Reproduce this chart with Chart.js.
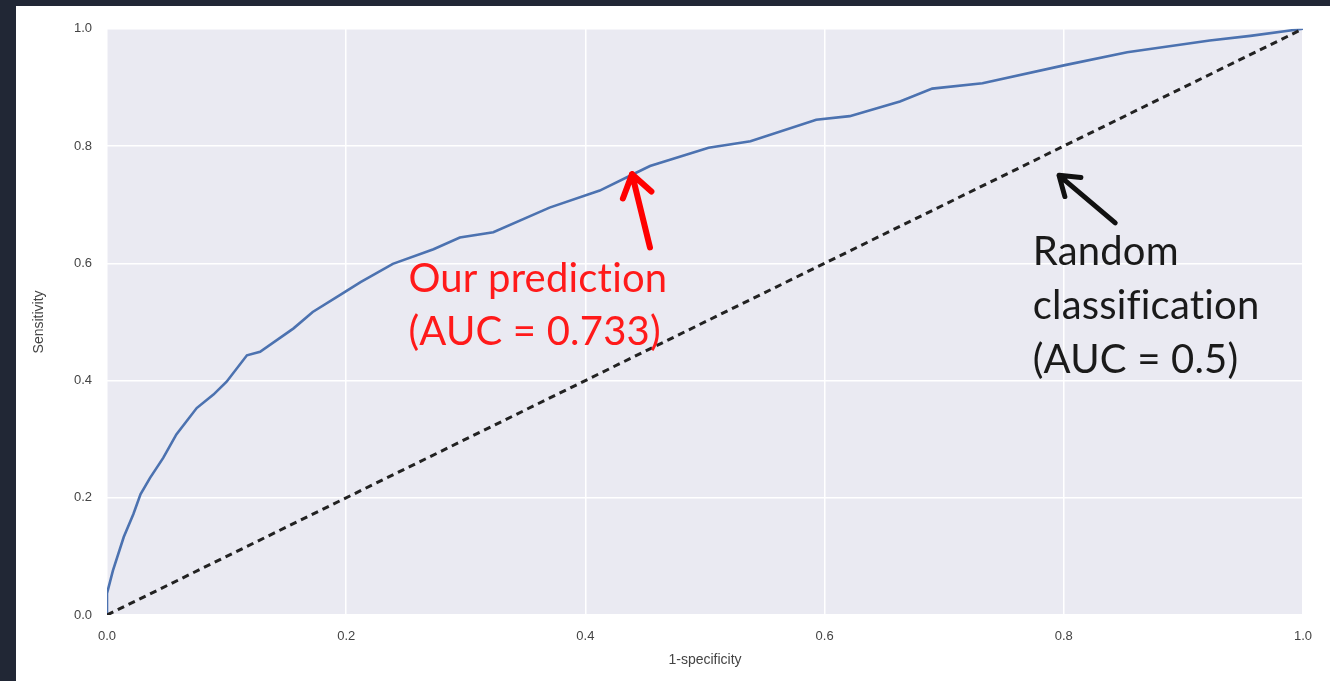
<!DOCTYPE html>
<html lang="en">
<head>
    <meta charset="UTF-8">
    <title>ROC curve</title>
    <script src="https://cdn.jsdelivr.net/npm/chart.js"></script>
    <style>
        html, body { margin: 0; padding: 0; background: #212735; }
        .frame {
            position: absolute; left: 16px; top: 6px;
            width: 1314px; height: 675px; background: #fff;
        }
    </style>
</head>
<body>
    <div class="frame"><canvas id="roc" width="1314" height="675"></canvas></div>

    <script>
        // ROC curve (false positive rate vs true positive rate)
        const rocFpr = [0, 0, 0.005, 0.014, 0.022, 0.028, 0.036, 0.047, 0.058, 0.075, 0.089, 0.1, 0.117, 0.128,
            0.156, 0.172, 0.195, 0.212, 0.239, 0.273, 0.295, 0.323, 0.37, 0.412, 0.439, 0.454, 0.503, 0.538,
            0.593, 0.621, 0.663, 0.69, 0.732, 0.801, 0.853, 0.922, 0.956, 1];
        const rocTpr = [0, 0.037, 0.076, 0.133, 0.172, 0.206, 0.234, 0.268, 0.308, 0.353, 0.376, 0.398, 0.443, 0.449,
            0.489, 0.517, 0.546, 0.568, 0.599, 0.624, 0.644, 0.653, 0.695, 0.724, 0.751, 0.766, 0.797, 0.808,
            0.845, 0.851, 0.876, 0.898, 0.907, 0.938, 0.960, 0.980, 0.988, 1];
        const randomFpr = [0, 1];
        const randomTpr = [0, 1];
        const tickValues = [0, 0.2, 0.4, 0.6, 0.8, 1.0];

        const predictionLabel = ['Our prediction', '(AUC = 0.733)'];
        const randomLabel = ['Random', 'classification', '(AUC = 0.5)'];

        const toPoints = (xs, ys) => xs.map((x, i) => ({ x: x, y: ys[i] }));

        // light grey-blue plot background
        const plotBg = {
            id: 'plotBg',
            beforeDraw(chart) {
                const a = chart.chartArea, ctx = chart.ctx;
                ctx.save();
                ctx.fillStyle = '#eaeaf2';
                ctx.fillRect(a.left, a.top, a.right - a.left, a.bottom - a.top);
                ctx.restore();
            }
        };

        function arrow(ctx, x1, y1, x2, y2, color, width, head) {
            const ang = Math.atan2(y2 - y1, x2 - x1);
            ctx.save();
            ctx.strokeStyle = color;
            ctx.lineWidth = width;
            ctx.lineCap = 'round';
            ctx.lineJoin = 'round';
            ctx.beginPath();
            ctx.moveTo(x1, y1);
            ctx.lineTo(x2, y2);
            ctx.moveTo(x2 - head * Math.cos(ang - 0.6), y2 - head * Math.sin(ang - 0.6));
            ctx.lineTo(x2, y2);
            ctx.lineTo(x2 - head * Math.cos(ang + 0.6), y2 - head * Math.sin(ang + 0.6));
            ctx.stroke();
            ctx.restore();
        }

        function lines(ctx, text, x, y, step) {
            text.forEach((t, i) => ctx.fillText(t, x, y + i * step));
        }

        // text notes and arrows, placed in data coordinates
        const notes = {
            id: 'notes',
            afterDatasetsDraw(chart) {
                const ctx = chart.ctx, xs = chart.scales.x, ys = chart.scales.y;
                ctx.save();
                ctx.textAlign = 'left';
                ctx.textBaseline = 'alphabetic';
                ctx.font = '40px Lato, "Open Sans", sans-serif';
                ctx.letterSpacing = '0.2px'; // no "ti" ligature

                ctx.fillStyle = '#ff1a1a';
                lines(ctx, predictionLabel, xs.getPixelForValue(0.252), ys.getPixelForValue(0.551), 53);
                arrow(ctx, xs.getPixelForValue(0.454), ys.getPixelForValue(0.627),
                    xs.getPixelForValue(0.439), ys.getPixelForValue(0.752), '#ff0000', 6, 26);

                ctx.fillStyle = '#1a1a1a';
                lines(ctx, randomLabel, xs.getPixelForValue(0.774), ys.getPixelForValue(0.597), 54);
                arrow(ctx, xs.getPixelForValue(0.843), ys.getPixelForValue(0.669),
                    xs.getPixelForValue(0.796), ys.getPixelForValue(0.750), '#111', 5, 22);
                ctx.restore();
            }
        };

        const tickFont = { family: '"Liberation Sans", Arial, sans-serif', size: 13 };

        new Chart(document.getElementById('roc'), {
            type: 'scatter',
            data: {
                datasets: [{
                    data: toPoints(randomFpr, randomTpr),
                    showLine: true,
                    borderColor: '#222',
                    borderWidth: 3,
                    borderDash: [7, 5],
                    pointRadius: 0
                }, {
                    data: toPoints(rocFpr, rocTpr),
                    showLine: true,
                    borderColor: '#4c72b0',
                    borderWidth: 2.6,
                    pointRadius: 0,
                    tension: 0
                }]
            },
            options: {
                responsive: false,
                animation: false,
                layout: { padding: { top: 19, right: 27, left: 0, bottom: 0 } },
                plugins: { legend: { display: false }, tooltip: { enabled: false } },
                scales: {
                    x: {
                        type: 'linear', min: 0, max: 1,
                        afterBuildTicks: s => { s.ticks = tickValues.map(v => ({ value: v })); },
                        afterFit: s => { s.height = 66; },
                        grid: { color: '#ffffff', lineWidth: 1.5, drawTicks: false },
                        border: { display: false },
                        ticks: { color: '#444', font: tickFont, padding: 14, maxRotation: 0,
                            callback: v => v.toFixed(1) },
                        title: { display: true, text: '1-specificity', color: '#444',
                            font: { family: '"Liberation Sans", Arial, sans-serif', size: 14 },
                            padding: { top: 0, bottom: 12 } }
                    },
                    y: {
                        type: 'linear', min: 0, max: 1,
                        afterBuildTicks: s => { s.ticks = tickValues.map(v => ({ value: v })); },
                        afterFit: s => { s.width = 91; },
                        grid: { color: '#ffffff', lineWidth: 1.5, drawTicks: false },
                        border: { display: false },
                        ticks: { color: '#444', font: tickFont, padding: 15,
                            callback: v => v.toFixed(1) },
                        title: { display: true, text: 'Sensitivity', color: '#444',
                            font: { family: '"Liberation Sans Narrow", "Liberation Sans", Arial, sans-serif', size: 14 },
                            padding: { top: 15, bottom: 0 } }
                    }
                }
            },
            plugins: [plotBg, notes]
        });
    </script>
</body>
</html>
